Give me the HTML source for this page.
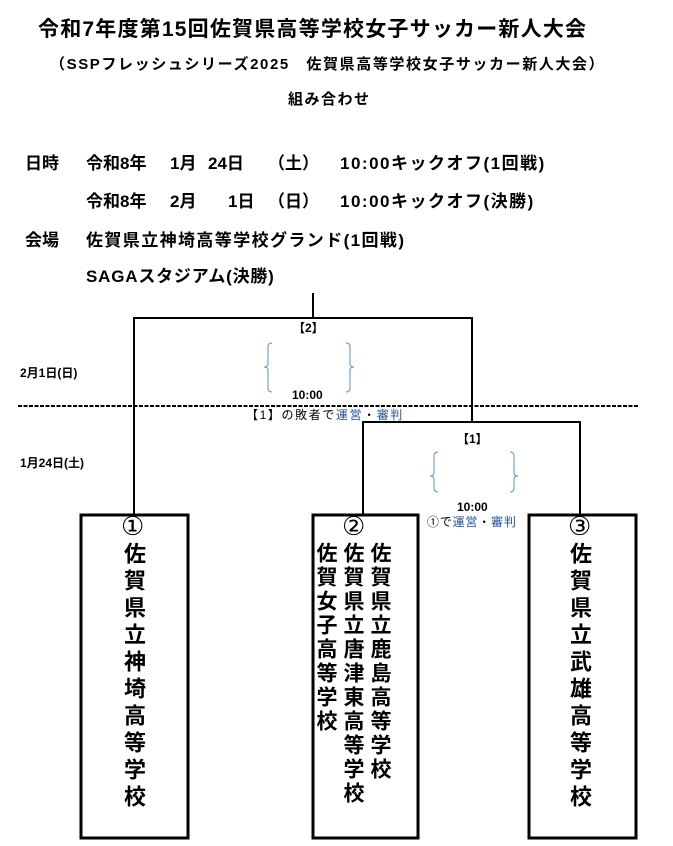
<!DOCTYPE html>
<html><head><meta charset="utf-8"><style>
body{margin:0;width:673px;height:846px;background:#fff;position:relative;overflow:hidden;font-family:"Liberation Sans","Noto Sans CJK JP",sans-serif;color:#000}
.t{position:absolute;white-space:nowrap;line-height:1}
.b{font-weight:bold}
.v{position:absolute;writing-mode:vertical-rl;font-weight:bold;font-size:22px;line-height:22px;font-family:"Noto Sans CJK JP",sans-serif}
</style></head><body>
<div class="t b" style="left:38px;top:19px;font-size:21px;letter-spacing:1.2px">令和7年度第15回佐賀県高等学校女子サッカー新人大会</div>
<div class="t" style="left:50px;top:57px;font-size:15px;font-weight:bold;letter-spacing:1.6px">（SSPフレッシュシリーズ2025　佐賀県高等学校女子サッカー新人大会）</div>
<div class="t b" style="left:288px;top:92px;font-size:15px;letter-spacing:1.5px">組み合わせ</div>

<div class="t b" style="left:25px;top:155px;font-size:17px">日時</div>
<div class="t" style="left:86px;top:155px;font-size:17px;font-weight:bold">令和8年</div>
<div class="t" style="left:170px;top:155px;font-size:17px;font-weight:bold">1月</div>
<div class="t" style="left:208px;top:155px;font-size:17px;font-weight:bold">24日</div>
<div class="t" style="left:268px;top:155px;font-size:17px;font-weight:bold">（土）</div>
<div class="t" style="left:340px;top:155px;font-size:17px;font-weight:bold;letter-spacing:1.5px">10:00キックオフ(1回戦)</div>

<div class="t" style="left:86px;top:193px;font-size:17px;font-weight:bold">令和8年</div>
<div class="t" style="left:170px;top:193px;font-size:17px;font-weight:bold">2月</div>
<div class="t" style="left:228px;top:193px;font-size:17px;font-weight:bold">1日</div>
<div class="t" style="left:268px;top:193px;font-size:17px;font-weight:bold">（日）</div>
<div class="t" style="left:340px;top:193px;font-size:17px;font-weight:bold;letter-spacing:1.5px">10:00キックオフ(決勝)</div>

<div class="t b" style="left:25px;top:232px;font-size:17px">会場</div>
<div class="t" style="left:86px;top:232px;font-size:17px;font-weight:bold;letter-spacing:1.4px">佐賀県立神埼高等学校グランド(1回戦)</div>
<div class="t" style="left:86px;top:268px;font-size:17px;font-weight:bold;letter-spacing:0.8px">SAGAスタジアム(決勝)</div>

<svg style="position:absolute;left:0;top:0" width="673" height="846">
<g stroke="#000" stroke-width="2" fill="none">
<line x1="313" y1="293" x2="313" y2="318"/>
<polyline points="134,515 134,318 472,318 472,422"/>
<polyline points="363,515 363,422 580,422 580,515"/>
</g>
<line x1="18" y1="406" x2="638" y2="406" stroke="#000" stroke-width="2" stroke-dasharray="4,1.5"/>
<g stroke-width="3" stroke="#000" fill="none">
<rect x="81" y="515" width="107" height="323"/>
<rect x="313" y="515" width="105" height="323"/>
<rect x="529" y="515" width="107" height="323"/>
</g>
<g stroke="#5b8fd0" stroke-width="1" fill="none">
<path d="M272,343 Q268,343 268,347 L268,364 Q268,367 264,367 Q268,367 268,370 L268,388 Q268,392 272,392"/>
<path d="M346,343 Q350,343 350,347 L350,364 Q350,367 354,367 Q350,367 350,370 L350,388 Q350,392 346,392"/>
<path d="M438,452 Q434,452 434,456 L434,473 Q434,476 430,476 Q434,476 434,479 L434,488 Q434,492 438,492"/>
<path d="M510,452 Q514,452 514,456 L514,473 Q514,476 518,476 Q514,476 514,479 L514,488 Q514,492 510,492"/>
</g>
</svg>

<div class="t b" style="left:293px;top:322px;font-size:12px">【2】</div>
<div class="t b" style="left:292px;top:389px;font-size:12px">10:00</div>
<div class="t" style="left:246px;top:409px;font-size:12px;letter-spacing:1.6px">【1】の敗者で<span style="color:#1f4e9c">運営</span>・<span style="color:#1f4e9c">審判</span></div>
<div class="t b" style="left:20px;top:367px;font-size:12px">2月1日(日)</div>
<div class="t b" style="left:20px;top:457px;font-size:12px">1月24日(土)</div>
<div class="t b" style="left:457px;top:433px;font-size:12px">【1】</div>
<div class="t b" style="left:457px;top:501px;font-size:12px">10:00</div>
<div class="t" style="left:427px;top:516px;font-size:12px;letter-spacing:0.8px">①で<span style="color:#1f4e9c">運営</span>・<span style="color:#1f4e9c">審判</span></div>

<div class="t" style="left:121px;top:514px;font-size:26px;font-family:'DejaVu Sans',sans-serif">①</div>
<div class="t" style="left:342px;top:514px;font-size:26px;font-family:'DejaVu Sans',sans-serif">②</div>
<div class="t" style="left:568px;top:514px;font-size:26px;font-family:'DejaVu Sans',sans-serif">③</div>

<div class="v" style="left:124px;top:542px;letter-spacing:5px">佐賀県立神埼高等学校</div>
<div class="v" style="left:570px;top:542px;letter-spacing:5px">佐賀県立武雄高等学校</div>
<div class="v" style="left:370px;top:542px;font-size:21px;letter-spacing:3px">佐賀県立鹿島高等学校</div>
<div class="v" style="left:343px;top:542px;font-size:21px;letter-spacing:3px">佐賀県立唐津東高等学校</div>
<div class="v" style="left:316px;top:542px;font-size:21px;letter-spacing:3px">佐賀女子高等学校</div>
</body></html>
